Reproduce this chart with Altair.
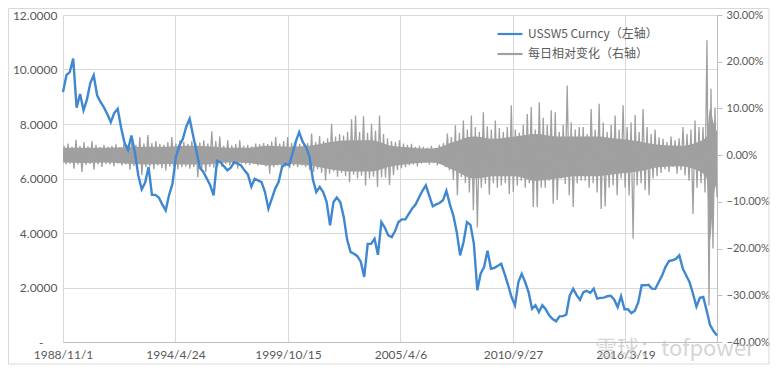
import altair as alt
import pandas as pd

blue_name = "USSW5 Curncy（左轴）"
gray_name = "每日相对变化（右轴）"

# USSW5 level, one reading every two months from 1988-11
swap_start = "1988-11-01"
swap_values = [
    9.17, 9.79, 9.9, 10.4, 8.6, 9.1, 8.5, 8.9, 9.5, 9.79,
    9.05, 8.8, 8.6, 8.35, 8.07, 8.4, 8.56, 7.85, 7.3, 7.05,
    7.58, 6.97, 6.12, 5.6, 5.85, 6.42, 5.4, 5.4, 5.3, 5.05,
    4.83, 5.4, 5.8, 6.8, 7.2, 7.45, 7.9, 8.19, 7.6, 7.0,
    6.4, 6.24, 6.0, 5.75, 5.38, 6.65, 6.6, 6.45, 6.3, 6.4,
    6.6, 6.55, 6.48, 6.3, 6.15, 5.7, 5.99, 5.93, 5.87, 5.5,
    4.89, 5.26, 5.63, 5.87, 6.42, 6.54, 6.48, 6.9, 7.35, 7.7,
    7.35, 7.15, 6.8, 5.95, 5.5, 5.69, 5.5, 5.14, 4.28, 5.14,
    5.3, 5.14, 4.6, 3.75, 3.3, 3.24, 3.15, 2.95, 2.39, 3.6,
    3.6, 3.79, 3.2, 4.4, 4.2, 3.91, 3.85, 4.08, 4.4, 4.5,
    4.5, 4.7, 4.9, 5.05, 5.3, 5.55, 5.75, 5.35, 4.98, 5.05,
    5.1, 5.2, 5.55, 5.05, 4.65, 4.04, 3.18, 3.67, 4.4, 4.3,
    3.6, 1.9, 2.51, 2.75, 3.35, 2.69, 2.72, 2.8, 2.87, 2.5,
    2.1, 1.65, 1.35, 2.2, 2.5, 2.2, 1.83, 1.22, 1.35, 1.1,
    1.35, 1.2, 0.98, 0.84, 0.76, 0.94, 0.95, 1.0, 1.7, 1.95,
    1.72, 1.55, 1.83, 1.88, 1.8, 1.96, 1.59, 1.62, 1.63, 1.68,
    1.7, 1.55, 1.28, 1.68, 1.2, 1.2, 1.06, 1.15, 1.45, 2.08,
    2.08, 2.1, 1.96, 1.95, 2.2, 2.45, 2.76, 2.97, 3.0, 3.05,
    3.18, 2.7, 2.45, 2.2, 1.78, 1.3, 1.62, 1.65, 1.15, 0.62,
    0.4, 0.24,
]

# daily relative change (%), high / low envelope read in ~71-day buckets
change_start = "1988-11-19"
change_hi = [
    2.0, 2.5, 1.8, 3.3, 2.0, 2.8, 1.9, 3.0, 2.2, 1.8,
    2.2, 1.8, 2.0, 2.3, 1.7, 2.4, 2.1, 2.9, 2.2, 3.9,
    2.5, 4.3, 2.6, 3.0, 2.4, 2.2, 2.8, 3.9, 2.5, 3.2,
    2.8, 2.4, 3.0, 2.6, 2.7, 3.2, 2.5, 5.1, 3.0, 4.0,
    2.0, 3.2, 2.1, 2.4, 3.2, 2.0, 2.2, 1.9, 2.5, 2.3,
    2.6, 2.4, 2.9, 3.9, 2.5, 3.0, 3.9, 2.6, 2.8, 2.4,
    2.2, 2.6, 4.6, 2.8, 4.1, 3.0, 3.6, 6.7, 4.0, 4.5,
    4.2, 5.0, 7.7, 8.5, 5.0, 8.3, 4.8, 6.7, 5.2, 8.5,
    4.5, 3.6, 3.0, 2.8, 3.2, 2.5, 2.2, 2.4, 1.8, 2.0,
    1.8, 1.6, 2.0, 1.5, 2.2, 2.6, 4.6, 3.9, 6.4, 4.8,
    7.4, 5.5, 8.5, 6.0, 5.0, 9.2, 6.2, 5.5, 7.4, 5.8,
    5.0, 6.0, 10.7, 5.5, 4.8, 6.5, 8.8, 10.3, 5.5, 11.3,
    8.0, 6.5, 9.6, 9.2, 5.0, 6.5, 14.9, 7.0, 5.5, 6.0,
    6.0, 4.5, 9.9, 5.5, 11.0, 7.0, 5.0, 6.5, 8.5, 5.5,
    10.7, 6.0, 7.0, 8.6, 5.0, 9.9, 6.0, 4.5, 5.5, 3.8,
    3.5, 2.8, 4.0, 3.2, 3.6, 6.0, 4.5, 5.5, 7.4, 6.0,
    6.0, 24.6, 14.2, 10.2,
]
change_lo = [
    -2.0, -1.8, -2.9, -2.0, -3.6, -2.1, -1.9, -3.1, -2.0, -2.5,
    -1.9, -2.0, -2.4, -1.8, -2.2, -2.0, -3.1, -2.3, -2.0, -4.3,
    -2.6, -2.4, -3.0, -2.2, -2.8, -3.3, -2.5, -2.4, -3.0, -2.6,
    -2.4, -2.9, -2.6, -4.7, -2.8, -3.6, -2.5, -2.7, -2.4, -2.5,
    -1.9, -2.2, -2.1, -2.9, -1.8, -2.0, -2.1, -1.9, -2.2, -2.0,
    -2.4, -4.0, -2.6, -2.2, -3.0, -2.4, -2.8, -2.3, -2.6, -2.2,
    -2.6, -3.2, -3.6, -3.0, -3.8, -5.4, -4.0, -3.5, -4.6, -3.8,
    -4.5, -5.8, -4.2, -5.0, -4.4, -6.5, -5.0, -4.6, -6.8, -4.8,
    -4.8, -6.4, -4.3, -3.2, -2.8, -2.6, -2.2, -2.0, -2.4, -1.8,
    -1.6, -2.0, -1.7, -2.2, -1.8, -2.6, -3.2, -5.3, -8.6, -4.7,
    -6.0, -8.0, -11.8, -15.5, -7.0, -6.1, -8.5, -6.0, -7.0, -6.5,
    -6.0, -8.3, -7.9, -6.5, -5.5, -7.0, -6.0, -11.1, -11.1, -7.0,
    -7.0, -5.5, -10.4, -9.6, -5.0, -6.2, -8.6, -11.1, -6.0, -5.5,
    -5.5, -7.0, -6.0, -8.0, -11.5, -11.0, -7.0, -6.5, -8.6, -5.0,
    -7.0, -8.6, -17.9, -6.5, -6.0, -7.5, -8.6, -5.0, -4.5, -3.8,
    -3.0, -3.6, -2.5, -4.0, -3.2, -4.3, -5.5, -12.6, -7.0, -6.0,
    -8.0, -32.2, -20.0, -9.0,
]

# solid core of the daily-change band (%), read roughly once a year
core_dates = [
    "1988-11-01", "1989-11-01", "1990-11-01", "1991-11-01", "1992-11-01",
    "1993-11-01", "1994-11-01", "1995-11-01", "1996-11-01", "1997-11-01",
    "1998-11-01", "1999-11-01", "2000-11-01", "2001-11-01", "2002-11-01",
    "2003-11-01", "2004-11-01", "2005-11-01", "2006-11-01", "2007-11-01",
    "2008-11-01", "2009-11-01", "2010-11-01", "2011-11-01", "2012-11-01",
    "2013-11-01", "2014-11-01", "2015-11-01", "2016-11-01", "2017-11-01",
    "2018-11-01", "2019-11-01", "2020-03-01", "2020-05-01", "2020-07-01",
    "2020-09-01",
]
core_hi = [1.6, 1.6, 1.6, 1.7, 1.8, 1.8, 2.0, 1.9, 1.6, 1.6,
           2.0, 1.8, 2.0, 2.8, 3.2, 3.2, 2.0, 1.6, 1.4, 2.8,
           4.0, 3.5, 4.0, 4.5, 4.0, 4.0, 4.0, 3.5, 3.0, 2.2,
           2.0, 3.0, 4.0, 10.0, 7.0, 5.0]
core_lo = [-1.6, -1.7, -1.6, -1.8, -2.0, -1.9, -2.0, -2.0, -1.6, -1.7,
           -2.2, -1.9, -2.2, -3.0, -3.5, -3.5, -2.4, -1.8, -1.6, -3.2,
           -5.0, -4.5, -4.5, -5.5, -5.0, -4.5, -4.5, -4.0, -3.5, -2.6,
           -2.4, -3.5, -5.0, -18.0, -9.0, -6.0]

x_tick_dates = [(1988, 11, 1), (1994, 4, 24), (1999, 10, 15),
                (2005, 4, 6), (2010, 9, 27), (2016, 3, 19)]
x_domain = [(1988, 11, 1), (2020, 9, 1)]
left_ticks = [0, 2, 4, 6, 8, 10, 12]
right_ticks = [-0.4, -0.3, -0.2, -0.1, 0.0, 0.1, 0.2, 0.3]

blue_color = "#3f87d0"
gray_color = "#a0a0a0"
text_color = "#595959"

swap_df = pd.DataFrame({
    "date": pd.date_range(swap_start, periods=len(swap_values), freq="2MS"),
    "value": swap_values,
    "series": blue_name,
})

chg_vals = []
for h, l in zip(change_hi, change_lo):
    chg_vals.append(h / 100.0)
    chg_vals.append(l / 100.0)
change_df = pd.DataFrame({
    "date": pd.date_range(change_start, periods=len(chg_vals), freq="852h"),
    "value": chg_vals,
    "series": gray_name,
})

core_df = pd.DataFrame({
    "date": pd.to_datetime(core_dates),
    "hi": [v / 100.0 for v in core_hi],
    "lo": [v / 100.0 for v in core_lo],
})

def dt(t):
    return alt.DateTime(year=t[0], month=t[1], date=t[2])

x_scale = alt.Scale(domain=[dt(t) for t in x_domain], nice=False)
x_axis = alt.Axis(values=[dt(t) for t in x_tick_dates],
                  labelExpr="timeFormat(datum.value, '%Y/%-m/%-d')",
                  grid=True, ticks=False, domain=True, labelPadding=7,
                  labelFlush=False, labelOverlap=False, title=None)
right_scale = alt.Scale(domain=[-0.4, 0.3], nice=False, zero=False)
right_axis = alt.Axis(orient="right", values=right_ticks, format=".2%",
                      grid=False, ticks=True, tickSize=5, domain=True,
                      labelPadding=4, labelFontSize=11, title=None)

color_scale = alt.Scale(domain=[blue_name, gray_name], range=[blue_color, gray_color])
legend = alt.Legend(orient="none", legendX=433, legendY=5, title=None,
                    symbolType="stroke", symbolSize=625, symbolStrokeWidth=2.2,
                    labelFont="Noto Sans CJK SC", labelFontSize=12,
                    labelColor=text_color, labelOffset=4, rowPadding=0,
                    padding=0, labelLimit=300)

core = alt.Chart(core_df).mark_area(color=gray_color, opacity=1, interpolate="monotone").encode(
    x=alt.X("date:T", scale=x_scale, axis=x_axis),
    y=alt.Y("hi:Q", scale=right_scale, axis=right_axis),
    y2="lo:Q",
)

gray = alt.Chart(change_df).mark_line(strokeWidth=1.3).encode(
    x=alt.X("date:T", scale=x_scale, axis=x_axis),
    y=alt.Y("value:Q", scale=right_scale, axis=right_axis),
    color=alt.Color("series:N", scale=color_scale, legend=legend),
)

gray_layer = alt.layer(core, gray)

blue = alt.Chart(swap_df).mark_line(strokeWidth=2.4).encode(
    x=alt.X("date:T", scale=x_scale, axis=x_axis),
    y=alt.Y("value:Q",
            scale=alt.Scale(domain=[0, 12], nice=False, zero=False),
            axis=alt.Axis(orient="left", values=left_ticks,
                          labelExpr="datum.value == 0 ? '-' : format(datum.value, '.4f')",
                          labelPadding={"condition": {"test": "datum.value === 0", "value": 20}, "value": 6},
                          grid=True, ticks=False, domain=False, title=None)),
    color=alt.Color("series:N", scale=color_scale, legend=legend),
)

one = pd.DataFrame({"k": [0]})
border = alt.Chart(one).mark_rect(fill="transparent", stroke="#d9d9d9", strokeWidth=1).encode(
    x=alt.value(-54.5), x2=alt.value(706), y=alt.value(-6.5), y2=alt.value(349)
)
watermark = alt.Chart(one).mark_text(
    text="雪球：tofpower", font="Noto Sans CJK SC", fontSize=22,
    color="#c4c4c4", opacity=0.7, align="left", baseline="alphabetic"
).encode(x=alt.value(532), y=alt.value(341))

chart = alt.layer(gray_layer, blue, border, watermark).resolve_scale(
    y="independent"
).properties(
    width=654, height=327,
    autosize=alt.AutoSizeParams(type="none"),
    padding={"left": 55, "top": 7, "right": 53, "bottom": 24},
    background="white",
).configure_axis(
    labelFont="Lato", labelFontSize=12, labelColor=text_color,
    gridColor="#d9d9d9", gridWidth=1, domainColor="#bfbfbf", tickColor="#bfbfbf",
).configure_view(strokeWidth=0)

chart.save("out.html", embed_options={"renderer": "svg", "actions": False})
